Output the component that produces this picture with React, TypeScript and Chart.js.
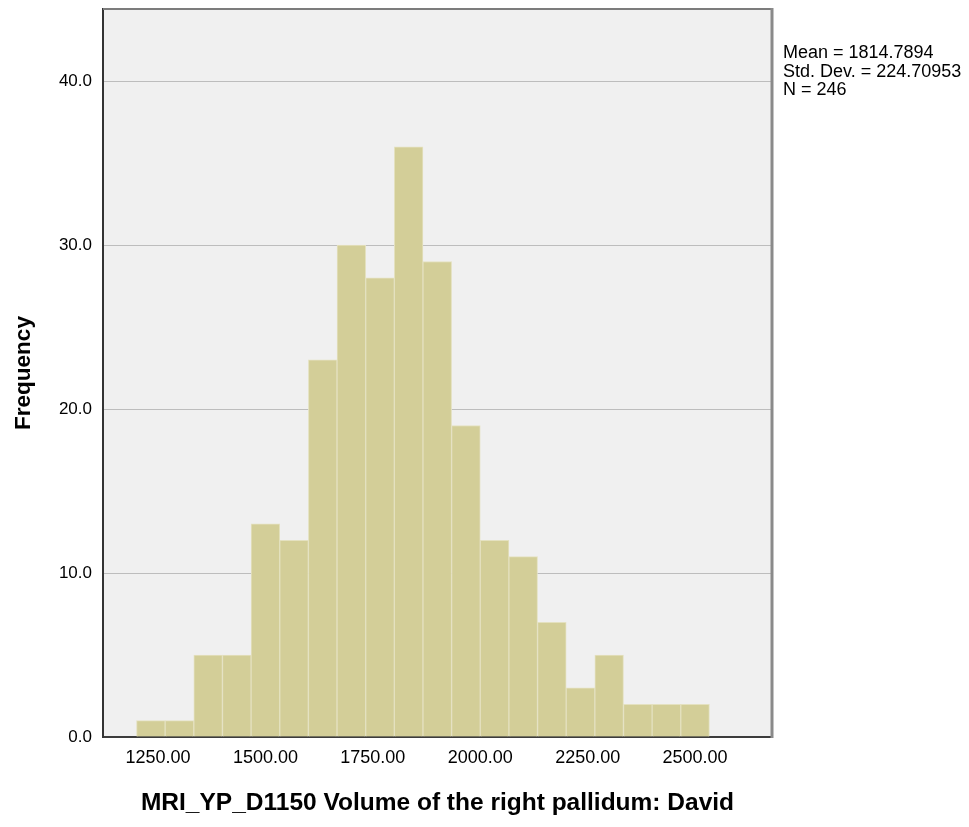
import React, { useEffect, useRef } from "react";
import { Chart, registerables } from "chart.js";

Chart.register(...registerables);

// Histogram bins (bin centre values) and counts
const binCenters = [
  1233.33, 1300.0, 1366.67, 1433.33, 1500.0, 1566.67, 1633.33, 1700.0, 1766.67, 1833.33,
  1900.0, 1966.67, 2033.33, 2100.0, 2166.67, 2233.33, 2300.0, 2366.67, 2433.33, 2500.0,
];
const frequencies = [1, 1, 5, 5, 13, 12, 23, 30, 28, 36, 29, 19, 12, 11, 7, 3, 5, 2, 2, 2];

const xTickValues = [1250, 1500, 1750, 2000, 2250, 2500];
const yTickValues = [0, 10, 20, 30, 40];
const xRange = [1122, 2679];
const yRange = [0, 44.4];

const statLines = ["Mean = 1814.7894", "Std. Dev. = 224.70953", "N = 246"];
const xTitle = "MRI_YP_D1150 Volume of the right pallidum: David";
const yTitle = "Frequency";

const FONT = "'Liberation Sans', Arial, sans-serif";

const framePlugin = {
  id: "spssFrame",
  beforeDraw(chart: any) {
    const { ctx, chartArea } = chart;
    const { left, top, right, bottom } = chartArea;
    ctx.save();
    ctx.fillStyle = "#f0f0f0";
    ctx.fillRect(left, top, right - left, bottom - top);
    ctx.restore();
  },
  afterDraw(chart: any) {
    const { ctx, chartArea } = chart;
    const { left, top, right, bottom } = chartArea;
    ctx.save();
    // top border
    ctx.strokeStyle = "#7c7c7c";
    ctx.lineWidth = 2;
    ctx.beginPath();
    ctx.moveTo(left, top);
    ctx.lineTo(right + 1, top);
    ctx.stroke();
    // right border
    ctx.strokeStyle = "#8a8a8a";
    ctx.lineWidth = 3;
    ctx.beginPath();
    ctx.moveTo(right, top - 1);
    ctx.lineTo(right, bottom + 1);
    ctx.stroke();
    // statistics text
    ctx.fillStyle = "#000";
    ctx.font = `18px ${FONT}`;
    ctx.textAlign = "left";
    ctx.textBaseline = "alphabetic";
    const baselines = [58, 77, 95];
    statLines.forEach((s, i) => ctx.fillText(s, right + 11, baselines[i]));
    ctx.restore();
  },
};

export default function App() {
  const canvasRef = useRef<HTMLCanvasElement | null>(null);

  useEffect(() => {
    const canvas = canvasRef.current;
    if (!canvas) return;
    const chart = new Chart(canvas, {
      type: "bar",
      data: {
        datasets: [
          {
            data: binCenters.map((x, i) => ({ x, y: frequencies[i] })),
            backgroundColor: "rgb(211,206,152)",
            borderColor: "rgb(228,225,192)",
            borderWidth: 1,
            barPercentage: 1,
            categoryPercentage: 1,
          },
        ],
      },
      options: {
        responsive: false,
        animation: false,
        events: [],
        layout: { padding: { left: 0, top: 9, right: 197, bottom: 0 } },
        plugins: {
          legend: { display: false },
          tooltip: { enabled: false },
        },
        scales: {
          x: {
            type: "linear",
            min: xRange[0],
            max: xRange[1],
            offset: false,
            grid: { display: false, drawTicks: false },
            border: { display: true, color: "#3c3c3c", width: 2 },
            afterBuildTicks: (scale: any) => {
              scale.ticks = xTickValues.map((v) => ({ value: v }));
            },
            afterFit: (scale: any) => {
              scale.height = 90;
              scale.paddingLeft = 0;
              scale.paddingRight = 0;
            },
            ticks: {
              padding: 10,
              maxRotation: 0,
              autoSkip: false,
              color: "#000",
              font: { family: FONT, size: 18 },
              callback: (v: any) => Number(v).toFixed(2),
            },
            title: {
              display: true,
              text: xTitle,
              color: "#000",
              font: { family: FONT, size: 24.5, weight: "bold" },
              padding: { top: 0, bottom: 9 },
            },
          },
          y: {
            type: "linear",
            min: yRange[0],
            max: yRange[1],
            grid: { display: true, drawTicks: false, color: "#bdbdbd", lineWidth: 1 },
            border: { display: true, color: "#333333", width: 2 },
            afterBuildTicks: (scale: any) => {
              scale.ticks = yTickValues.map((v) => ({ value: v }));
            },
            afterFit: (scale: any) => {
              scale.width = 103;
              scale.paddingTop = 0;
              scale.paddingBottom = 0;
            },
            ticks: {
              padding: 11,
              color: "#000",
              font: { family: FONT, size: 17 },
              callback: (v: any) => Number(v).toFixed(1),
            },
            title: {
              display: true,
              text: yTitle,
              color: "#000",
              font: { family: FONT, size: 22.5, weight: "bold" },
              padding: { top: 10, bottom: 0 },
            },
          },
        },
      },
      plugins: [framePlugin],
    });
    return () => chart.destroy();
  }, []);

  return (
    <div style={{ position: "absolute", left: 0, top: 0, width: 969, height: 827, background: "#fff" }}>
      <canvas ref={canvasRef} width={969} height={827} style={{ display: "block" }} />
    </div>
  );
}
